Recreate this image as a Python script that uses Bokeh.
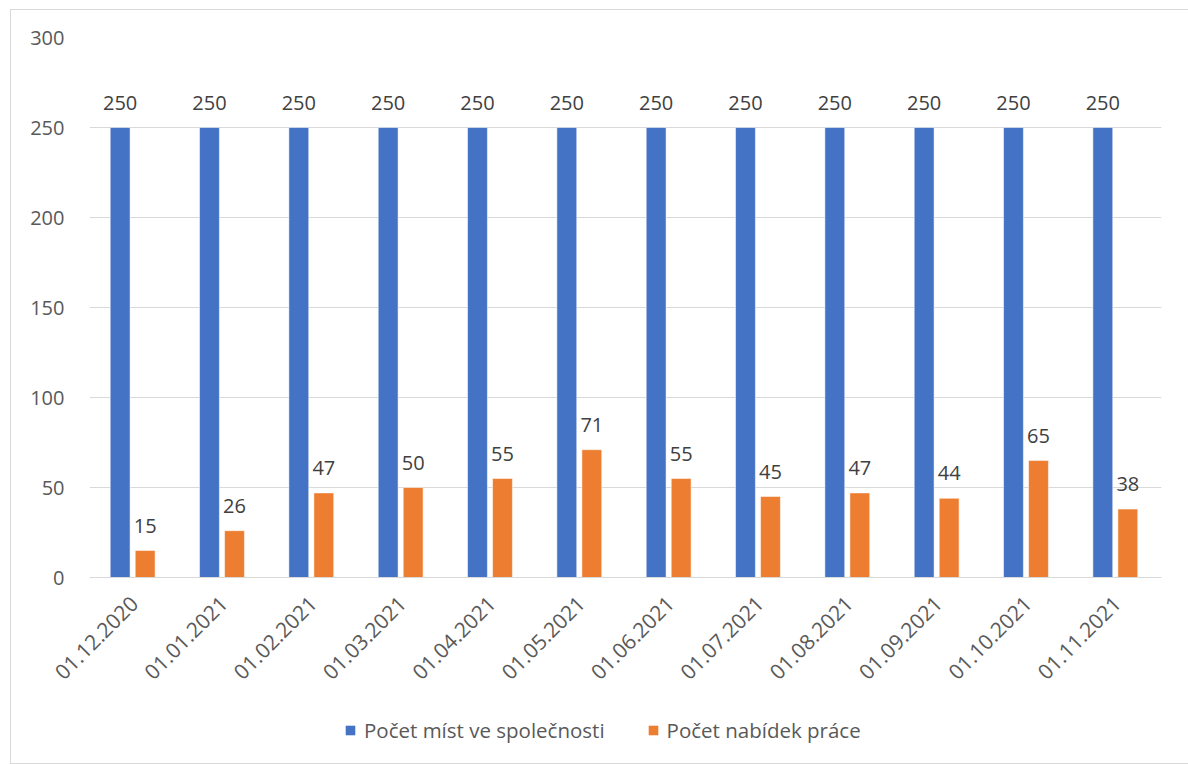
import math
from bokeh.plotting import figure
from bokeh.layouts import column
from bokeh.models import ColumnDataSource, FactorRange, Range1d, FixedTicker, Legend, LegendItem
from bokeh.transform import dodge
from bokeh.core.properties import value
from bokeh.embed import file_html
from bokeh.resources import INLINE

# Monthly snapshot dates
dates = ["01.12.2020", "01.01.2021", "01.02.2021", "01.03.2021", "01.04.2021", "01.05.2021",
         "01.06.2021", "01.07.2021", "01.08.2021", "01.09.2021", "01.10.2021", "01.11.2021"]
# Number of positions in the company
mista = [250, 250, 250, 250, 250, 250, 250, 250, 250, 250, 250, 250]
# Number of job offers
nabidky = [15, 26, 47, 50, 55, 71, 55, 45, 47, 44, 65, 38]

series_names = ["Počet míst ve společnosti", "Počet nabídek práce"]
y_ticks = [0, 50, 100, 150, 200, 250, 300]

BLUE = "#4472C4"
ORANGE = "#ED7D31"
GRID = "#D9D9D9"
FONT = "Open Sans"
LEFT, RIGHT = 78, 28
WIDTH = 1178

source = ColumnDataSource(dict(
    date=dates,
    mista=mista,
    nabidky=nabidky,
    mista_txt=[str(v) for v in mista],
    nabidky_txt=[str(v) for v in nabidky],
))

# ---- main bar chart -------------------------------------------------------
p = figure(
    frame_width=WIDTH - LEFT - RIGHT, frame_height=540,
    x_range=FactorRange(*dates),
    y_range=Range1d(0, 300),
    output_backend="svg",
    toolbar_location=None,
    min_border_left=LEFT, min_border_right=RIGHT, min_border_top=27, min_border_bottom=124,
    outline_line_color=None,
    background_fill_color="white",
    border_fill_color="white",
)

off_blue = -0.157
off_orange = 0.123
bw = 0.222

r1 = p.vbar(x=dodge("date", off_blue, range=p.x_range), top="mista", width=bw, source=source,
            fill_color=BLUE, line_color="white", line_width=0.5)
r2 = p.vbar(x=dodge("date", off_orange, range=p.x_range), top="nabidky", width=bw, source=source,
            fill_color=ORANGE, line_color="white", line_width=0.5)

label_kw = dict(text_font=value(FONT), text_font_size="20px", text_color="#404040",
                text_align="center", text_baseline="alphabetic", y_offset=-25)
p.text(x=dodge("date", off_blue, range=p.x_range), y="mista", text="mista_txt", source=source, **label_kw)
p.text(x=dodge("date", off_orange, range=p.x_range), y="nabidky", text="nabidky_txt", source=source, **label_kw)

p.yaxis.ticker = FixedTicker(ticks=y_ticks)
p.yaxis.axis_line_color = None
p.yaxis.major_tick_line_color = None
p.yaxis.major_tick_out = 0
p.yaxis.major_tick_in = 0
p.yaxis.minor_tick_line_color = None
p.yaxis.major_label_standoff = 25
p.yaxis.major_label_text_font = FONT
p.yaxis.major_label_text_font_size = "20px"
p.yaxis.major_label_text_color = "#595959"

p.xaxis.axis_line_color = GRID
p.xaxis.major_tick_line_color = None
p.xaxis.minor_tick_line_color = None
p.xaxis.major_label_orientation = math.pi / 4
p.xaxis.major_label_standoff = 16
p.xaxis.major_label_text_font = FONT
p.xaxis.major_label_text_font_size = "21px"
p.xaxis.major_label_text_color = "#595959"

p.xgrid.grid_line_color = None
p.ygrid.grid_line_color = GRID
p.ygrid.grid_line_width = 1.2

# ---- legend strip under the chart ----------------------------------------
STRIP_H = 62
q = figure(
    width=WIDTH, height=STRIP_H,
    x_range=p.x_range,
    y_range=Range1d(0, 1),
    output_backend="svg",
    toolbar_location=None,
    min_border_left=LEFT, min_border_right=RIGHT, min_border_top=0, min_border_bottom=0,
    outline_line_color=None,
    background_fill_color="white",
    border_fill_color="white",
)
q.xaxis.visible = False
q.yaxis.visible = False
q.xgrid.grid_line_color = None
q.ygrid.grid_line_color = None

# zero-height proxies that carry the legend swatches
k1 = q.vbar(x=[dates[0]], top=[0], width=bw, fill_color=BLUE, line_color=None)
k2 = q.vbar(x=[dates[0]], top=[0], width=bw, fill_color=ORANGE, line_color=None)

legend = Legend(
    items=[LegendItem(label=series_names[0], renderers=[k1]),
           LegendItem(label=series_names[1], renderers=[k2])],
    orientation="horizontal",
    location=(255, 19),
    label_text_font=FONT,
    label_text_font_size="20.5px",
    label_text_color="#595959",
    glyph_width=12, glyph_height=12,
    label_standoff=8,
    spacing=42,
    border_line_color=None,
    background_fill_alpha=0,
    padding=0,
    margin=0,
)
q.add_layout(legend, "center")

layout = column(p, q, spacing=0,
                styles={"border": "1px solid #D9D9D9", "margin-left": "10px", "margin-top": "9px"})

open("out.html", "w").write(file_html(layout, INLINE))
